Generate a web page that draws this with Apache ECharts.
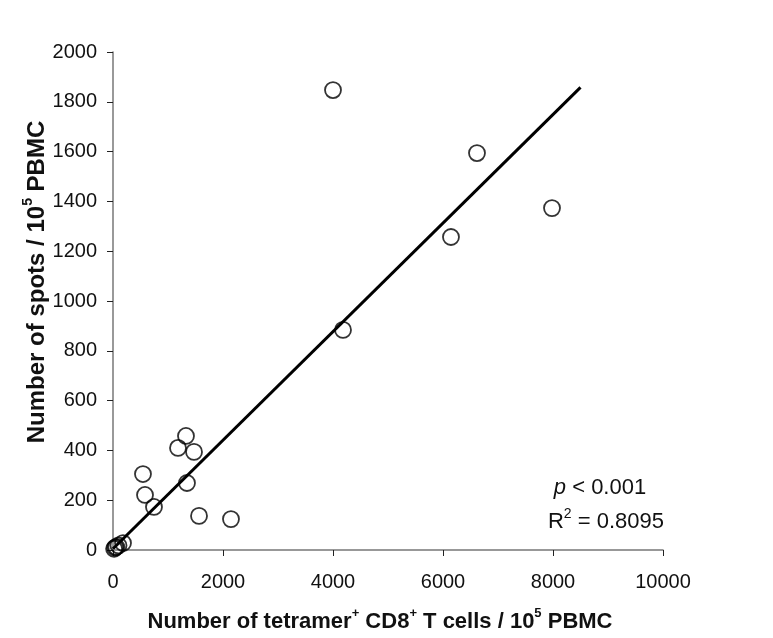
<!DOCTYPE html>
<html>
<head>
<meta charset="utf-8">
<script src="https://cdn.jsdelivr.net/npm/echarts@6/dist/echarts.min.js"></script>
<style>
  html, body { margin: 0; padding: 0; background: #fff; }
  #chart { width: 773px; height: 638px; }
</style>
</head>
<body>
<div id="chart"></div>
<script>
// tetramer+ CD8+ T cells vs spots (per 10^5 PBMC)
const tetramerCells = [20, 40, 60, 100, 182, 545, 582, 745, 1182, 1327, 1345, 1473, 1564, 2145, 4000, 4182, 6145, 6618, 7982]
const spotCounts = [5, 10, 12, 18, 28, 305, 221, 173, 410, 458, 269, 394, 137, 124, 1847, 884, 1257, 1594, 1373]

// regression line ends
const fitX = [0, 8500]
const fitY = [5, 1858]

const xTicks = [0, 2000, 4000, 6000, 8000, 10000]
const yTicks = [0, 200, 400, 600, 800, 1000, 1200, 1400, 1600, 1800, 2000]

const font = "Liberation Sans, Arial, sans-serif"

const chart = echarts.init(document.getElementById("chart"))

chart.setOption({
  animation: false,
  grid: { left: 113, right: 110, top: 52, bottom: 88 },
  xAxis: {
    type: "value",
    min: xTicks[0],
    max: xTicks[xTicks.length - 1],
    interval: 2000,
    splitLine: { show: false },
    axisLine: { lineStyle: { color: "#777", width: 1.5 } },
    axisTick: { length: 6, lineStyle: { color: "#222" } },
    axisLabel: { color: "#111", fontSize: 20, fontFamily: font, margin: 22, formatter: v => String(v) }
  },
  yAxis: {
    type: "value",
    min: yTicks[0],
    max: yTicks[yTicks.length - 1],
    interval: 200,
    splitLine: { show: false },
    axisLine: { show: true, lineStyle: { color: "#777", width: 1.5 } },
    axisTick: { show: true, length: 6, lineStyle: { color: "#222" } },
    axisLabel: { color: "#111", fontSize: 20, fontFamily: font, margin: 16, formatter: v => String(v) }
  },
  graphic: [
    {
      // x axis title
      type: "text",
      x: 380,
      y: 620,
      style: {
        text: "{t|Number of tetramer}{s|+}{t| CD8}{s|+}{t| T cells / 10}{s|5}{t| PBMC}",
        align: "center",
        verticalAlign: "middle",
        rich: {
          t: { fontSize: 22, fontWeight: "bold", fontFamily: font, fill: "#111", lineHeight: 26, verticalAlign: "bottom" },
          s: { fontSize: 13, fontWeight: "bold", fontFamily: font, fill: "#111", lineHeight: 26, verticalAlign: "top" }
        }
      }
    },
    {
      // y axis title
      type: "text",
      x: 35,
      y: 282,
      rotation: Math.PI / 2,
      style: {
        text: "{t|Number of spots / 10}{s|5}{t| PBMC}",
        align: "center",
        verticalAlign: "middle",
        rich: {
          t: { fontSize: 24, fontWeight: "bold", fontFamily: font, fill: "#111", lineHeight: 28, verticalAlign: "bottom" },
          s: { fontSize: 14, fontWeight: "bold", fontFamily: font, fill: "#111", lineHeight: 28, verticalAlign: "top" }
        }
      }
    },
    {
      type: "text",
      x: 600,
      y: 488,
      style: {
        text: "{i|p}{n| < 0.001}",
        align: "center",
        verticalAlign: "middle",
        rich: {
          i: { fontSize: 22, fontStyle: "italic", fontFamily: font, fill: "#111" },
          n: { fontSize: 22, fontFamily: font, fill: "#111" }
        }
      }
    },
    {
      type: "text",
      x: 606,
      y: 520,
      style: {
        text: "{n|R}{s|2}{n| = 0.8095}",
        align: "center",
        verticalAlign: "middle",
        rich: {
          n: { fontSize: 22, fontFamily: font, fill: "#111", lineHeight: 26, verticalAlign: "bottom" },
          s: { fontSize: 14, fontFamily: font, fill: "#111", lineHeight: 26, verticalAlign: "top" }
        }
      }
    }
  ],
  series: [
    {
      type: "line",
      data: fitX.map((x, i) => [x, fitY[i]]),
      symbol: "none",
      lineStyle: { color: "#000", width: 3 },
      z: 2
    },
    {
      type: "scatter",
      data: tetramerCells.map((x, i) => [x, spotCounts[i]]),
      symbol: "circle",
      symbolSize: 16,
      itemStyle: { color: "rgba(255,255,255,0)", borderColor: "#000", borderWidth: 1.8 },
      z: 3
    }
  ]
})
</script>
</body>
</html>
